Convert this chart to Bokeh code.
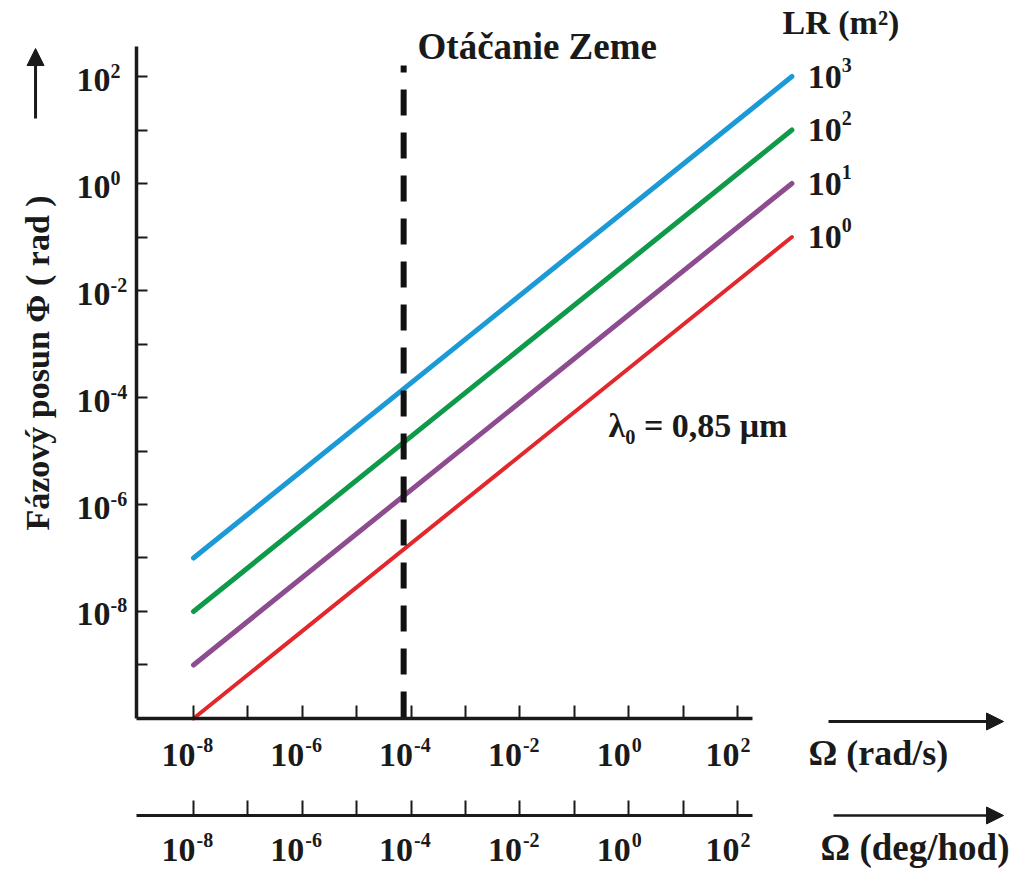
from bokeh.plotting import figure
from bokeh.models import (LogAxis, FixedTicker, CustomJSTickFormatter, Label,
                          Arrow, NormalHead, Range1d)
from bokeh.embed import file_html
from bokeh.resources import INLINE
from bokeh.core.properties import value

# ---------------- data ----------------
omega_label_exp = [-8, -6, -4, -2, 0, 2]          # labelled x ticks (10^e)
omega_minor_exp = [-7, -5, -3, -1, 1]             # unlabelled x ticks
phase_label_exp = [-8, -6, -4, -2, 0, 2]          # labelled y ticks
phase_minor_exp = [-9, -7, -5, -3, -1, 1]         # unlabelled y ticks

lr_exp = [3, 2, 1, 0]                              # LR = 10^e  (m^2)
lr_colors = ["#1b9ad6", "#0f9a4a", "#8d4b90", "#e2282d"]
lr_widths = [5, 5, 5, 4]
omega_start = 1e-8
omega_end = 1e3
phase_start = [1e-7, 1e-8, 1e-9, 1e-10]
phase_end = [1e2, 1e1, 1e0, 1e-1]

earth_rate = 7.29e-5      # Otáčanie Zeme, rad/s

# ---------------- figure ----------------
W, H = 1020, 868
XL, XR = -11.548, 7.202      # log10 limits of the frame
YB, YT = -12.804, 3.421

p = figure(width=W, height=H, x_axis_type="log", y_axis_type="log",
           x_range=Range1d(10 ** XL, 10 ** XR), y_range=Range1d(10 ** YB, 10 ** YT),
           output_backend="svg", toolbar_location=None, min_border=0,
           x_axis_location=None, y_axis_location=None)
p.outline_line_color = None
p.grid.visible = False
p.background_fill_color = "white"
p.border_fill_color = "white"

FONT = "Liberation Serif"
INK = "#1a1a1a"
BIG = "34px"
SUP = "20px"

blank = CustomJSTickFormatter(code="return '';")

def style_axis(ax, tick_len, lw=3.5):
    ax.axis_line_width = lw
    ax.axis_line_color = INK
    ax.major_tick_in = tick_len
    ax.major_tick_out = 0
    ax.minor_tick_in = tick_len
    ax.minor_tick_out = 0
    ax.major_tick_line_width = 2
    ax.minor_tick_line_width = 2
    ax.major_tick_line_color = INK
    ax.minor_tick_line_color = INK
    ax.major_label_text_font_size = "1px"

x_left = 10 ** -9.048
x_right = 10 ** 2.276
ax1_loc = 1e-10
ax2_loc = 10 ** -11.813

for loc, tl, lw in [(ax1_loc, 13, 3.5), (ax2_loc, 15, 3)]:
    ax = LogAxis(fixed_location=loc, bounds=(x_left, x_right),
                 ticker=FixedTicker(ticks=[10.0 ** e for e in omega_label_exp],
                                    minor_ticks=[10.0 ** e for e in omega_minor_exp]),
                 formatter=blank)
    style_axis(ax, tl, lw)
    p.add_layout(ax, "below")

ay = LogAxis(fixed_location=x_left, bounds=(1e-10, 10 ** 2.561),
             ticker=FixedTicker(ticks=[10.0 ** e for e in phase_label_exp],
                                minor_ticks=[10.0 ** e for e in phase_minor_exp]),
             formatter=blank)
style_axis(ay, 11)
p.add_layout(ay, "left")

txt = dict(text_font=value(FONT), text_font_style="bold", text_color=INK,
           text_baseline="middle")

# tick labels: "10" plus a raised exponent
def x_tick_labels(loc, base_dy, exp_dy):
    xs = [10.0 ** e for e in omega_label_exp]
    ys = [loc] * len(xs)
    p.text(x=xs, y=ys, text=["10"] * len(xs), text_align="right", x_offset=2,
           y_offset=base_dy, text_font_size=BIG, **txt)
    p.text(x=xs, y=ys, text=[str(e) for e in omega_label_exp], text_align="left",
           x_offset=3, y_offset=exp_dy, text_font_size=SUP, **txt)

x_tick_labels(ax1_loc, 37, 27)
x_tick_labels(ax2_loc, 35, 25)

ys = [10.0 ** e for e in phase_label_exp]
xs = [x_left] * len(ys)
p.text(x=xs, y=ys, text=["10"] * len(ys), text_align="left", x_offset=-60,
       y_offset=3, text_font_size=BIG, **txt)
p.text(x=xs, y=ys, text=[str(e) for e in phase_label_exp], text_align="left",
       x_offset=-26, y_offset=-6, text_font_size=SUP, **txt)

# ---------------- series ----------------
for y0, y1, c, w in zip(phase_start, phase_end, lr_colors, lr_widths):
    p.line(x=[omega_start, omega_end], y=[y0, y1], line_color=c, line_width=w,
           line_cap="round")

lx = [omega_end * 10 ** 0.29] * len(phase_end)
p.text(x=lx, y=phase_end, text=["10"] * len(phase_end), text_align="left",
       y_offset=0, text_font_size=BIG, **txt)
p.text(x=lx, y=phase_end, text=[str(e) for e in lr_exp], text_align="left",
       x_offset=34, y_offset=-12, text_font_size=SUP, **txt)

# Earth rotation dashed line
p.line(x=[earth_rate, earth_rate], y=[10 ** 2.206, 1e-10], line_color="#111111",
       line_width=6, line_dash="26 17", line_dash_offset=19)

# ---------------- texts ----------------
def lbl(x, y, text, size, align="left", angle=0.0):
    p.add_layout(Label(x=x, y=y, text=text, text_font=FONT, text_font_style="bold",
                       text_font_size=size, text_align=align, text_baseline="middle",
                       text_color=INK, angle=angle))

lbl(10 ** -3.882, 10 ** 2.561, "Otáčanie Zeme", "37px")
lbl(10 ** 2.827, 10 ** 3.019, "LR (m²)", "34px")
lbl(10 ** -0.371, 10 ** -4.523, "λ₀ = 0,85 μm", "34px")
lbl(10 ** 3.305, 10 ** -10.636, "Ω  (rad/s)", "36px")
lbl(10 ** 3.526, 10 ** -12.411, "Ω (deg/hod)", "37px")
lbl(10 ** -10.868, 10 ** -6.486, "Fázový posun  Φ ( rad )", "34px",
    angle=1.5707963)

# arrows
head = dict(size=17, fill_color=INK, line_color=INK)
p.add_layout(Arrow(end=NormalHead(**head),
                   x_start=10 ** 3.673, y_start=10 ** -10.056,
                   x_end=10 ** 6.890, y_end=10 ** -10.056,
                   line_width=3, line_color=INK))
p.add_layout(Arrow(end=NormalHead(**head),
                   x_start=10 ** 3.765, y_start=10 ** -11.813,
                   x_end=10 ** 6.890, y_end=10 ** -11.813,
                   line_width=2.5, line_color=INK))
p.add_layout(Arrow(end=NormalHead(**head),
                   x_start=10 ** -10.904, y_start=10 ** 1.215,
                   x_end=10 ** -10.904, y_end=10 ** 2.523,
                   line_width=3, line_color=INK))

with open("out.html", "w", encoding="utf-8") as f:
    f.write(file_html(p, INLINE))
